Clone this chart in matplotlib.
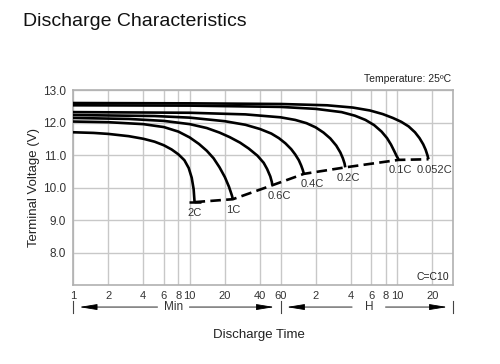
import numpy as np
import matplotlib.pyplot as plt

plt.rcParams['font.family'] = ['Liberation Sans', 'DejaVu Sans']

# discharge time in minutes, terminal voltage in V
rates = ['2C', '1C', '0.6C', '0.4C', '0.2C', '0.1C', '0.052C']
t_2c = [1, 1.5, 2, 3, 4, 5, 6, 7, 8, 9, 9.8, 10.4, 10.8, 11]
v_2c = [11.7, 11.68, 11.65, 11.58, 11.5, 11.41, 11.3, 11.17, 11.02, 10.84, 10.6, 10.3, 9.95, 9.55]
t_1c = [1, 2, 4, 6, 8, 10, 12, 14, 16, 18, 20, 21.7, 23, 23.4]
v_1c = [12.03, 12.01, 11.95, 11.86, 11.72, 11.54, 11.34, 11.13, 10.9, 10.62, 10.32, 10.02, 9.75, 9.64]
t_06c = [1, 3, 6, 10, 14, 18, 22, 27, 32, 38, 43, 46, 49, 50.5, 51]
v_06c = [12.14, 12.11, 12.05, 11.95, 11.83, 11.69, 11.55, 11.38, 11.2, 10.98, 10.76, 10.57, 10.34, 10.17, 10.07]
t_04c = [1, 5, 10, 20, 30, 40, 50, 58, 66, 74, 80, 86, 90, 93, 95]
v_04c = [12.23, 12.2, 12.15, 12.04, 11.93, 11.8, 11.66, 11.52, 11.36, 11.18, 11.02, 10.84, 10.68, 10.54, 10.42]
t_02c = [1, 10, 30, 60, 80, 100, 120, 140, 160, 180, 195, 205, 212, 215]
v_02c = [12.32, 12.3, 12.25, 12.16, 12.08, 11.98, 11.85, 11.69, 11.51, 11.29, 11.08, 10.9, 10.74, 10.62]
t_01c = [1, 10, 60, 120, 200, 260, 320, 380, 440, 490, 530, 565, 590, 607, 615]
v_01c = [12.53, 12.52, 12.48, 12.42, 12.32, 12.21, 12.08, 11.92, 11.72, 11.52, 11.32, 11.12, 10.98, 10.9, 10.85]
t_0052c = [1, 10, 60, 150, 250, 350, 450, 550, 650, 750, 850, 930, 1000, 1050, 1090, 1110]
v_0052c = [12.6, 12.59, 12.57, 12.53, 12.46, 12.37, 12.26, 12.14, 12.02, 11.88, 11.7, 11.52, 11.33, 11.16, 10.98, 10.87]

t_end = [11, 23.4, 51, 95, 215, 615, 1110]
v_end = [9.55, 9.64, 10.07, 10.42, 10.62, 10.85, 10.87]

xticks = [1, 2, 4, 6, 8, 10, 20, 40, 60, 120, 240, 360, 480, 600, 1200]
xtick_labels = ['1', '2', '4', '6', '8', '10', '20', '40', '60', '2', '4', '6', '8', '10', '20']
yticks = [8, 9, 10, 11, 12, 13]
ytick_labels = ['8.0', '9.0', '10.0', '11.0', '12.0', '13.0']

curves_t = [t_2c, t_1c, t_06c, t_04c, t_02c, t_01c, t_0052c]
curves_v = [v_2c, v_1c, v_06c, v_04c, v_02c, v_01c, v_0052c]
label_offsets = [(0, -4), (0, -4), (5, -4), (6, -4), (2, -4), (1, -4), (4, -4)]

fig = plt.figure(figsize=(5, 3.64), dpi=100)
ax = fig.add_axes([0.146, 0.217, 0.76, 0.5357])

ax.set_xscale('log')
ax.set_xlim(1, 1800)
ax.set_ylim(7, 13)

for t, v in zip(curves_t, curves_v):
    ax.plot(t, v, color='black', lw=1.9, solid_capstyle='butt',
            solid_joinstyle='round', zorder=3)

ax.plot(t_end, v_end, color='black', lw=1.9, linestyle=(0, (4, 2)), zorder=3)
ax.plot(t_end[:1], v_end[:1], marker='_', ms=8, mew=1.8, color='black', zorder=3)

for name, t, v, off in zip(rates, t_end, v_end, label_offsets):
    ax.annotate(name, (t, v), xytext=off, textcoords='offset points',
                ha='center', va='top', fontsize=8, color='#333333')

ax.set_xticks(xticks)
ax.set_xticklabels(xtick_labels)
ax.xaxis.set_minor_locator(plt.NullLocator())
ax.set_yticks(yticks)
ax.set_yticklabels(ytick_labels)
ax.tick_params(length=0, labelsize=8, colors='#333333')
ax.tick_params(axis='y', labelsize=8.5, pad=5)
ax.tick_params(axis='x', pad=4)
ax.grid(True, color='#c8c8c8', lw=1)
ax.set_axisbelow(True)
for s in ax.spines.values():
    s.set_color('#b0b0b0')
    s.set_linewidth(1.2)

ax.set_ylabel('Terminal Voltage (V)', fontsize=9.5, color='#222222', labelpad=2)

ax.text(0.995, 1.03, 'Temperature: 25ºC', transform=ax.transAxes, ha='right',
        va='bottom', fontsize=7.5, color='#222222')
ax.text(0.99, 0.015, 'C=C10', transform=ax.transAxes, ha='right',
        va='bottom', fontsize=7.5, color='#222222')

# Min / H arrows under the axis
tr = ax.get_xaxis_transform()
ya = -0.113
akw = dict(arrowstyle='-|>,head_length=1.1,head_width=0.18', color='black', lw=0.6)
for x in [1, 60, 1800]:
    ax.plot([x, x], [ya - 0.03, ya + 0.03], color='#444444', lw=0.8,
            transform=tr, clip_on=False)
ax.annotate('', xy=(1.07, ya), xytext=(5.6, ya), xycoords=tr, textcoords=tr, arrowprops=akw)
ax.annotate('', xy=(56, ya), xytext=(9.4, ya), xycoords=tr, textcoords=tr, arrowprops=akw)
ax.text(7.3, ya, 'Min', transform=tr, ha='center', va='center', fontsize=8.5, color='#333333')
ax.annotate('', xy=(64, ya), xytext=(260, ya), xycoords=tr, textcoords=tr, arrowprops=akw)
ax.annotate('', xy=(1700, ya), xytext=(450, ya), xycoords=tr, textcoords=tr, arrowprops=akw)
ax.text(345, ya, 'H', transform=tr, ha='center', va='center', fontsize=8.5, color='#333333')

fig.text(0.518, 0.08, 'Discharge Time', ha='center', va='center', fontsize=9.5, color='#222222')
fig.text(0.046, 0.94, 'Discharge Characteristics', ha='left', va='center',
         fontsize=14, color='#111111')

fig.savefig('out.png', dpi=100)
